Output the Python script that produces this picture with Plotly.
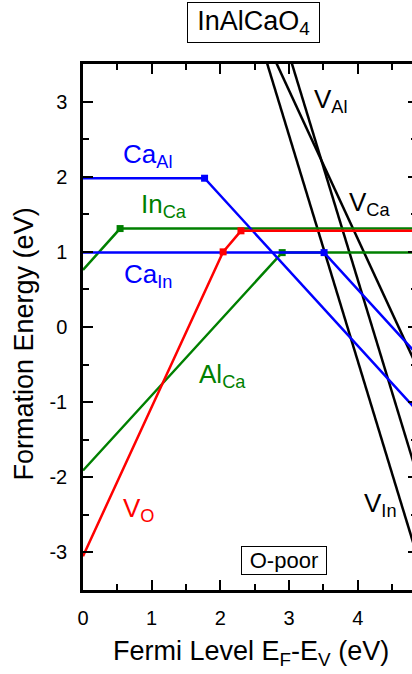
import plotly.graph_objects as go

# Fermi level (eV) vertices and formation energies (eV) for each defect
ca_al_x = [0.0, 1.77, 5.0]
ca_al_y = [1.98, 1.98, -1.25]

ca_in_x = [0.0, 3.51, 5.0]
ca_in_y = [0.99, 0.99, -0.50]

in_ca_x = [0.0, 0.54, 5.0]
in_ca_y = [0.76, 1.31, 1.31]

al_ca_x = [0.0, 2.90, 5.0]
al_ca_y = [-1.91, 0.99, 0.99]

v_o_x = [0.0, 2.04, 2.30, 5.0]
v_o_y = [-3.05, 1.00, 1.28, 1.28]

v_in_x = [2.6, 5.0]
v_in_y = [3.75, -3.45]

v_al_x = [3.0, 5.0]
v_al_y = [3.63, -2.37]

v_ca_x = [2.7, 5.0]
v_ca_y = [3.74, -0.80]

x_ticks = [0, 1, 2, 3, 4]
x_tick_text = ["0", "1", "2", "3", "4"]
y_ticks = [-3, -2, -1, 0, 1, 2, 3]
y_tick_text = ["-3", "-2", "-1", "0", "1", "2", "3"]

FONT = "Liberation Sans, Arial, sans-serif"
BLUE = "#0000ff"
GREEN = "#008000"
RED = "#ff0000"
BLACK = "#000000"
LW = 2.5

fig = go.Figure()


def add_defect(xs, ys, color):
    fig.add_trace(go.Scatter(x=xs, y=ys, mode="lines",
                             line=dict(color=color, width=LW),
                             showlegend=False, hoverinfo="skip"))
    if len(xs) > 2:
        fig.add_trace(go.Scatter(x=xs[1:-1], y=ys[1:-1], mode="markers",
                                 marker=dict(symbol="square", size=7, color=color),
                                 showlegend=False, hoverinfo="skip"))


# vacancies of the cations
add_defect(v_in_x, v_in_y, BLACK)
add_defect(v_al_x, v_al_y, BLACK)
add_defect(v_ca_x, v_ca_y, BLACK)
# antisites
add_defect(in_ca_x, in_ca_y, GREEN)
add_defect(al_ca_x, al_ca_y, GREEN)
add_defect(ca_al_x, ca_al_y, BLUE)
add_defect(ca_in_x, ca_in_y, BLUE)
# oxygen vacancy
add_defect(v_o_x, v_o_y, RED)

# helper trace so the right-hand tick axis is drawn
fig.add_trace(go.Scatter(x=[None], y=[None], yaxis="y2", showlegend=False,
                         hoverinfo="skip"))

labels = [
    ("Ca<sub>Al</sub>", 0.55, 2.33, BLUE),
    ("In<sub>Ca</sub>", 0.82, 1.67, GREEN),
    ("Ca<sub>In</sub>", 0.57, 0.74, BLUE),
    ("Al<sub>Ca</sub>", 1.665, -0.59, GREEN),
    ("V<sub>O</sub>", 0.56, -2.37, RED),
    ("V<sub>In</sub>", 4.06, -2.31, BLACK),
    ("V<sub>Al</sub>", 3.33, 3.07, BLACK),
    ("V<sub>Ca</sub>", 3.84, 1.70, BLACK),
]
for text, lx, ly, col in labels:
    fig.add_annotation(x=lx, y=ly, xref="x", yref="y", text=text,
                       showarrow=False, xanchor="left", yanchor="middle",
                       yshift=-4, font=dict(family=FONT, size=26, color=col))

# compound name
fig.add_annotation(x=0.519, y=1.079, xref="paper", yref="paper",
                   text="InAlCaO<sub>4</sub>", showarrow=False,
                   xanchor="center", yanchor="middle",
                   font=dict(family=FONT, size=27, color=BLACK),
                   bordercolor=BLACK, borderwidth=1, borderpad=3,
                   width=125, height=33, bgcolor="white")
# growth condition
fig.add_annotation(x=0.611, y=0.056, xref="paper", yref="paper",
                   text="O-poor", showarrow=False,
                   xanchor="center", yanchor="middle",
                   font=dict(family=FONT, size=22, color=BLACK),
                   bordercolor=BLACK, borderwidth=1, borderpad=2,
                   width=80, height=23, bgcolor="white")
# axis titles
fig.add_annotation(x=0.511, y=-0.1198, xref="paper", yref="paper",
                   text="Fermi Level E<sub>F</sub>-E<sub>V</sub> (eV)",
                   showarrow=False, xanchor="center", yanchor="middle",
                   font=dict(family=FONT, size=27, color=BLACK))
fig.add_annotation(x=-0.179, y=0.467, xref="paper", yref="paper",
                   text="Formation Energy (eV)", textangle=-90,
                   showarrow=False, xanchor="center", yanchor="middle",
                   font=dict(family=FONT, size=27, color=BLACK))

fig.update_layout(
    width=412, height=674,
    margin=dict(l=83, r=0, t=64, b=84),
    paper_bgcolor="white", plot_bgcolor="white",
    font=dict(family=FONT, size=20, color=BLACK),
    xaxis=dict(range=[0, 4.79], tickvals=x_ticks, ticktext=x_tick_text,
               ticks="inside", ticklen=10, tickwidth=2, tickcolor=BLACK,
               showline=True, linewidth=2.5, linecolor=BLACK, mirror="ticks",
               showgrid=False, zeroline=False, ticklabelstandoff=8,
               minor=dict(dtick=0.5, ticks="inside", ticklen=6, tickwidth=2,
                          tickcolor=BLACK, showgrid=False),
               tickfont=dict(family=FONT, size=20, color=BLACK)),
    yaxis=dict(range=[-3.5, 3.5], tickvals=y_ticks, ticktext=y_tick_text,
               ticks="inside", ticklen=10, tickwidth=2, tickcolor=BLACK,
               showline=True, linewidth=2.5, linecolor=BLACK, mirror=False,
               showgrid=False, zeroline=False, ticklabelstandoff=9,
               minor=dict(dtick=0.5, ticks="inside", ticklen=6, tickwidth=2,
                          tickcolor=BLACK, showgrid=False),
               tickfont=dict(family=FONT, size=20, color=BLACK)),
    yaxis2=dict(range=[-3.5, 3.5], tickvals=y_ticks, overlaying="y",
                side="right", anchor="x", showticklabels=False,
                ticks="inside", ticklen=4, tickwidth=2, tickcolor=BLACK,
                showline=False, showgrid=False, zeroline=False,
                minor=dict(dtick=0.5, ticks="inside", ticklen=1.5,
                           tickwidth=2, tickcolor=BLACK, showgrid=False)),
)

fig.write_html("out.html")
